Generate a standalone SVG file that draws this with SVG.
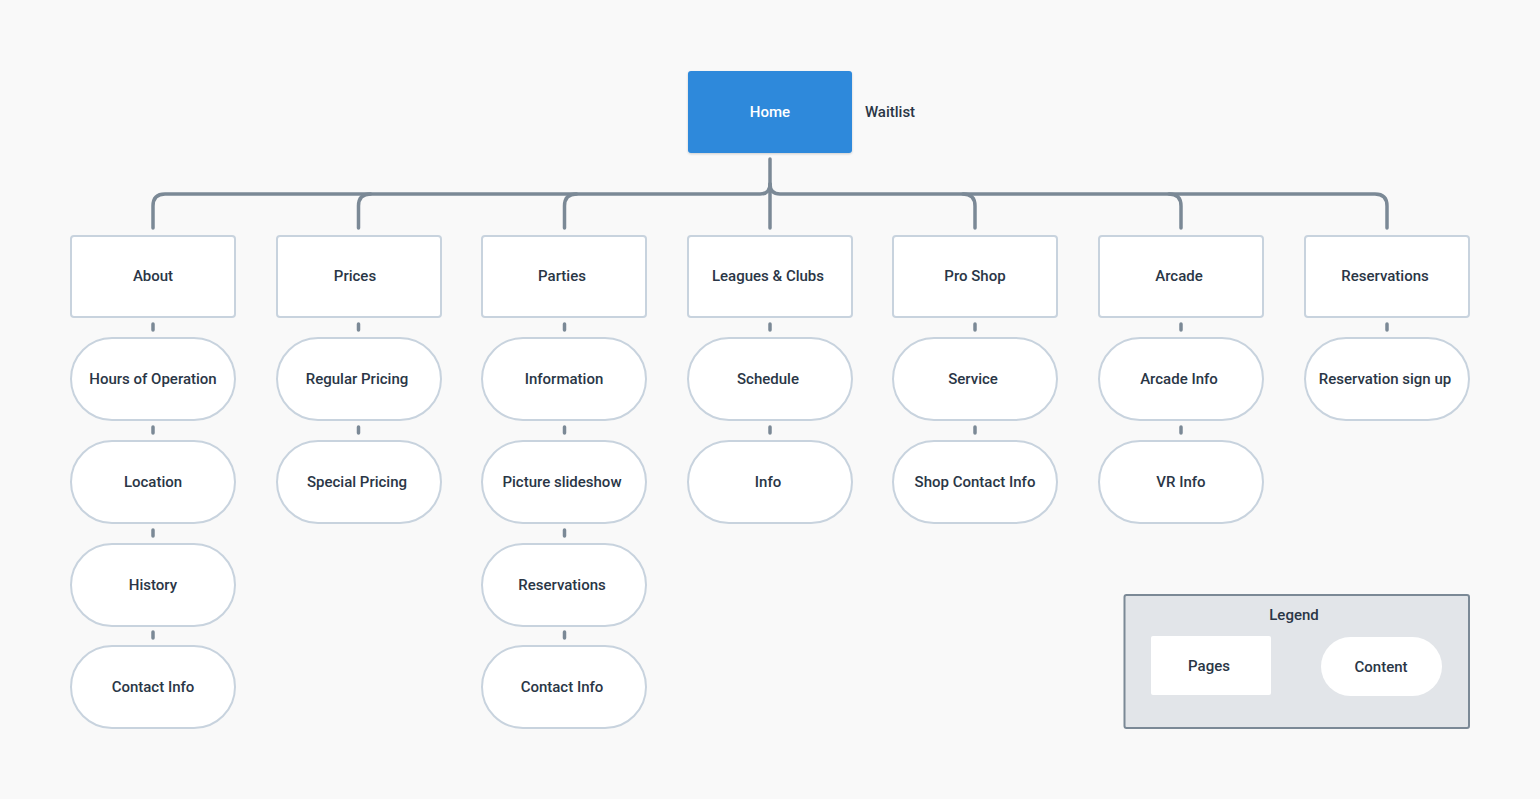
<svg xmlns="http://www.w3.org/2000/svg" width="1540" height="799" viewBox="0 0 1540 799">
<defs>
<style>
.bg{fill:#f9f9f9}
.page rect{fill:#ffffff;stroke:#c8d3de;stroke-width:2}
.pill rect{fill:#ffffff;stroke:#c8d3de;stroke-width:2}
text{font-family:"Roboto","Liberation Sans",sans-serif;font-size:15px;font-weight:500;fill:#2a3646;text-anchor:middle}
.conn path,.conn line{fill:none;stroke:#7b8996;stroke-width:3.5;stroke-linecap:round}
.tick line{stroke:#7b8996;stroke-width:3.5;stroke-linecap:round}
</style>
<filter id="sh" x="-10%" y="-10%" width="120%" height="130%">
<feDropShadow dx="0" dy="1" stdDeviation="1.2" flood-color="#000" flood-opacity="0.18"/>
</filter>
</defs>
<rect class="bg" x="0" y="0" width="1540" height="799"/>

<g id="connectors" class="conn">
<line x1="770" y1="159" x2="770" y2="228"/>
<path d="M153,228 V206 Q153,194 165,194 H760 Q770,194 770,184"/>
<path d="M1387,228 V206 Q1387,194 1375,194 H780 Q770,194 770,184"/>
<path d="M358.5,228 V206 Q358.5,194 370.5,194"/>
<path d="M564.5,228 V206 Q564.5,194 576.5,194"/>
<path d="M975,228 V206 Q975,194 963,194"/>
<path d="M1181,228 V206 Q1181,194 1169,194"/>
</g>
<g id="ticks" class="tick">
<line x1="153" y1="324" x2="153" y2="330"/>
<line x1="153" y1="427" x2="153" y2="433"/>
<line x1="153" y1="530" x2="153" y2="536"/>
<line x1="153" y1="632" x2="153" y2="638"/>
<line x1="358.5" y1="324" x2="358.5" y2="330"/>
<line x1="358.5" y1="427" x2="358.5" y2="433"/>
<line x1="564.5" y1="324" x2="564.5" y2="330"/>
<line x1="564.5" y1="427" x2="564.5" y2="433"/>
<line x1="564.5" y1="530" x2="564.5" y2="536"/>
<line x1="564.5" y1="632" x2="564.5" y2="638"/>
<line x1="770" y1="324" x2="770" y2="330"/>
<line x1="770" y1="427" x2="770" y2="433"/>
<line x1="975" y1="324" x2="975" y2="330"/>
<line x1="975" y1="427" x2="975" y2="433"/>
<line x1="1181" y1="324" x2="1181" y2="330"/>
<line x1="1181" y1="427" x2="1181" y2="433"/>
<line x1="1387" y1="324" x2="1387" y2="330"/>
</g>

<g id="home">
<rect x="688" y="71" width="164" height="82" rx="3" fill="#2d89db" filter="url(#sh)"/>
<text x="770" y="117" style="fill:#ffffff">Home</text>
</g>
<g id="waitlist"><text x="890" y="117">Waitlist</text></g>

<g id="about" class="page"><rect x="71" y="236" width="164" height="81" rx="3"/><text x="153" y="281">About</text></g>
<g id="prices" class="page"><rect x="277" y="236" width="164" height="81" rx="3"/><text x="355" y="281">Prices</text></g>
<g id="parties" class="page"><rect x="482" y="236" width="164" height="81" rx="3"/><text x="562" y="281">Parties</text></g>
<g id="leagues" class="page"><rect x="688" y="236" width="164" height="81" rx="3"/><text x="768" y="281">Leagues &amp; Clubs</text></g>
<g id="proshop" class="page"><rect x="893" y="236" width="164" height="81" rx="3"/><text x="975" y="281">Pro Shop</text></g>
<g id="arcade" class="page"><rect x="1099" y="236" width="164" height="81" rx="3"/><text x="1179" y="281">Arcade</text></g>
<g id="reservations" class="page"><rect x="1305" y="236" width="164" height="81" rx="3"/><text x="1385" y="281">Reservations</text></g>

<g id="hours" class="pill"><rect x="71" y="338" width="164" height="82" rx="41"/><text x="153" y="384">Hours of Operation</text></g>
<g id="location" class="pill"><rect x="71" y="441" width="164" height="82" rx="41"/><text x="153" y="487">Location</text></g>
<g id="history" class="pill"><rect x="71" y="544" width="164" height="82" rx="41"/><text x="153" y="590">History</text></g>
<g id="about-contact" class="pill"><rect x="71" y="646" width="164" height="82" rx="41"/><text x="153" y="692">Contact Info</text></g>

<g id="regular" class="pill"><rect x="277" y="338" width="164" height="82" rx="41"/><text x="357" y="384">Regular Pricing</text></g>
<g id="special" class="pill"><rect x="277" y="441" width="164" height="82" rx="41"/><text x="357" y="487">Special Pricing</text></g>

<g id="information" class="pill"><rect x="482" y="338" width="164" height="82" rx="41"/><text x="564" y="384">Information</text></g>
<g id="slideshow" class="pill"><rect x="482" y="441" width="164" height="82" rx="41"/><text x="562" y="487">Picture slideshow</text></g>
<g id="party-res" class="pill"><rect x="482" y="544" width="164" height="82" rx="41"/><text x="562" y="590">Reservations</text></g>
<g id="party-contact" class="pill"><rect x="482" y="646" width="164" height="82" rx="41"/><text x="562" y="692">Contact Info</text></g>

<g id="schedule" class="pill"><rect x="688" y="338" width="164" height="82" rx="41"/><text x="768" y="384">Schedule</text></g>
<g id="info" class="pill"><rect x="688" y="441" width="164" height="82" rx="41"/><text x="768" y="487">Info</text></g>

<g id="service" class="pill"><rect x="893" y="338" width="164" height="82" rx="41"/><text x="973" y="384">Service</text></g>
<g id="shop-contact" class="pill"><rect x="893" y="441" width="164" height="82" rx="41"/><text x="975" y="487">Shop Contact Info</text></g>

<g id="arcade-info" class="pill"><rect x="1099" y="338" width="164" height="82" rx="41"/><text x="1179" y="384">Arcade Info</text></g>
<g id="vr-info" class="pill"><rect x="1099" y="441" width="164" height="82" rx="41"/><text x="1181" y="487">VR Info</text></g>

<g id="res-signup" class="pill"><rect x="1305" y="338" width="164" height="82" rx="41"/><text x="1385" y="384">Reservation sign up</text></g>

<g id="legend">
<rect x="1124.5" y="595" width="344.5" height="133" rx="2" fill="#e2e5e9" stroke="#7b8996" stroke-width="2"/>
<text x="1294" y="620">Legend</text>
<rect x="1151" y="636" width="120" height="59" rx="2" fill="#ffffff"/>
<text x="1209" y="671">Pages</text>
<rect x="1321" y="637" width="121" height="59" rx="29.5" fill="#ffffff"/>
<text x="1381" y="672">Content</text>
</g>
</svg>
